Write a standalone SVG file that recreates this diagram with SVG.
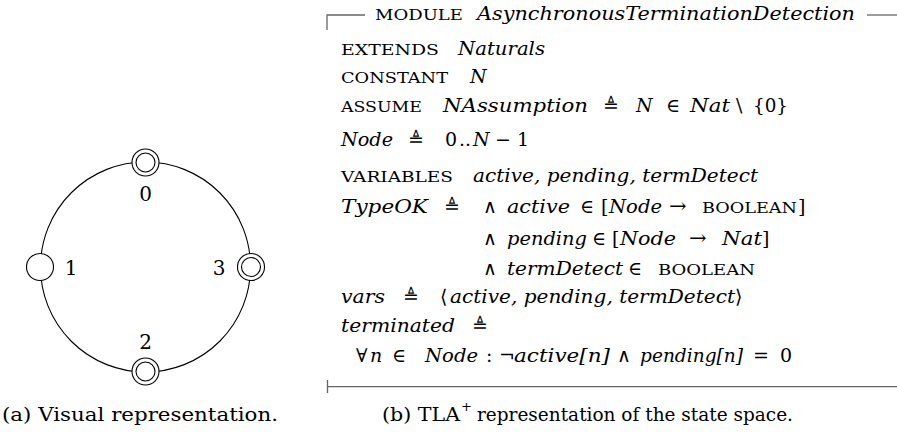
<svg xmlns="http://www.w3.org/2000/svg" width="897" height="435" viewBox="0 0 897 435">
<style>
.t{font-family:"DejaVu Serif","Liberation Serif",serif;font-size:19px;fill:#000}
.it{font-style:italic}
.sc{font-size:14.5px}
.sym{font-family:"DejaVu Serif","Liberation Serif",serif;font-size:19px;fill:#000}
.arr{font-family:"DejaVu Serif","Liberation Serif",serif;font-size:21px;fill:#000}
.eq{font-family:"DejaVu Serif","Liberation Serif",serif;font-size:19px;fill:#000;text-anchor:middle}
.ring{fill:none;stroke:#000;stroke-width:1.1}
.node{fill:#fff;stroke:#000;stroke-width:1.1}
.inner{fill:none;stroke:#000;stroke-width:1.1}
.rule{fill:none;stroke:#666;stroke-width:1.3}
.lbl{text-anchor:middle;font-size:20px}
</style>
<rect width="897" height="435" fill="#fff"/>

<g id="connectors">
<path class="ring" d="M145.5 162 A105 105 0 0 0 40.5 267"/>
<path class="ring" d="M40.5 267 A105 105 0 0 0 145.5 372"/>
<path class="ring" d="M145.5 372 A105 105 0 0 0 250.5 267"/>
<path class="ring" d="M250.5 267 A105 105 0 0 0 145.5 162"/>
</g>

<g id="node-0">
<circle class="node" cx="145.5" cy="162.5" r="13.5"/>
<circle class="inner" cx="145.5" cy="162.5" r="9.5"/>
<text class="t lbl" x="145.5" y="201">0</text>
</g>
<g id="node-1">
<circle class="node" cx="40" cy="267" r="13.5"/>
<text class="t lbl" x="71" y="275">1</text>
</g>
<g id="node-2">
<circle class="node" cx="145.5" cy="371.5" r="13.5"/>
<circle class="inner" cx="145.5" cy="371.5" r="9.5"/>
<text class="t lbl" x="145.5" y="349">2</text>
</g>
<g id="node-3">
<circle class="node" cx="251" cy="267" r="13.5"/>
<circle class="inner" cx="251" cy="267" r="9.5"/>
<text class="t lbl" x="219" y="275">3</text>
</g>

<text class="t" x="2" y="421" textLength="276" lengthAdjust="spacingAndGlyphs">(a) Visual representation.</text>

<g id="module">
<path class="rule" d="M327 30 V15 H365"/>
<path class="rule" d="M867 15 H897"/>
<path class="rule" d="M327.5 380 V393 M327.5 386.7 H897"/>

<text class="t sc" x="375" y="20" textLength="88" lengthAdjust="spacingAndGlyphs">MODULE</text>
<text class="t it" x="477" y="20" textLength="378" lengthAdjust="spacingAndGlyphs">AsynchronousTerminationDetection</text>

<text class="t sc" x="341" y="55" textLength="98" lengthAdjust="spacingAndGlyphs">EXTENDS</text>
<text class="t it" x="458" y="55" textLength="87" lengthAdjust="spacingAndGlyphs">Naturals</text>

<text class="t sc" x="341" y="83" textLength="107" lengthAdjust="spacingAndGlyphs">CONSTANT</text>
<text class="t it" x="470" y="83">N</text>

<text class="t sc" x="341" y="112" textLength="81" lengthAdjust="spacingAndGlyphs">ASSUME</text>
<text class="t it" x="443" y="112" textLength="145" lengthAdjust="spacingAndGlyphs">NAssumption</text>
<text class="eq" x="611" y="112">≜</text>
<text class="t it" x="636" y="112">N</text>
<text class="sym" x="666" y="112">∈</text>
<text class="t it" x="690" y="112" textLength="40" lengthAdjust="spacingAndGlyphs">Nat</text>
<text class="t" x="736" y="112">\</text>
<text class="t" x="753" y="112" textLength="35" lengthAdjust="spacingAndGlyphs">{0}</text>

<text class="t it" x="341" y="146" textLength="52" lengthAdjust="spacingAndGlyphs">Node</text>
<text class="eq" x="416" y="146">≜</text>
<text class="t" x="445" y="146">0</text>
<text class="t" x="459" y="146">..</text>
<text class="t it" x="473" y="146">N</text>
<text class="t" x="495" y="146">−</text>
<text class="t" x="517" y="146">1</text>

<text class="t sc" x="341" y="182" textLength="112" lengthAdjust="spacingAndGlyphs">VARIABLES</text>
<text class="t it" x="473" y="182" textLength="285" lengthAdjust="spacingAndGlyphs">active, pending, termDetect</text>

<text class="t it" x="341" y="213" textLength="87" lengthAdjust="spacingAndGlyphs">TypeOK</text>
<text class="eq" x="452" y="213">≜</text>
<text class="sym" x="483" y="213">∧</text>
<text class="t it" x="507" y="213" textLength="63" lengthAdjust="spacingAndGlyphs">active</text>
<text class="sym" x="580" y="213">∈</text>
<text class="t" x="601" y="213">[</text>
<text class="t it" x="609" y="213" textLength="53" lengthAdjust="spacingAndGlyphs">Node</text>
<text class="arr" x="669" y="213">→</text>
<text class="t sc" x="702" y="213" textLength="95" lengthAdjust="spacingAndGlyphs">BOOLEAN</text>
<text class="t" x="798" y="213">]</text>

<text class="sym" x="483" y="245">∧</text>
<text class="t it" x="507" y="245" textLength="80" lengthAdjust="spacingAndGlyphs">pending</text>
<text class="sym" x="592" y="245">∈</text>
<text class="t" x="612" y="245">[</text>
<text class="t it" x="620" y="245" textLength="56" lengthAdjust="spacingAndGlyphs">Node</text>
<text class="arr" x="689" y="245">→</text>
<text class="t it" x="722" y="245" textLength="40" lengthAdjust="spacingAndGlyphs">Nat</text>
<text class="t" x="762" y="245">]</text>

<text class="sym" x="483" y="275">∧</text>
<text class="t it" x="507" y="275" textLength="116" lengthAdjust="spacingAndGlyphs">termDetect</text>
<text class="sym" x="628" y="275">∈</text>
<text class="t sc" x="658" y="275" textLength="97" lengthAdjust="spacingAndGlyphs">BOOLEAN</text>

<text class="t it" x="341" y="303" textLength="44" lengthAdjust="spacingAndGlyphs">vars</text>
<text class="eq" x="411" y="303">≜</text>
<text class="sym" x="440" y="303">⟨</text>
<text class="t it" x="450" y="303" textLength="285" lengthAdjust="spacingAndGlyphs">active, pending, termDetect</text>
<text class="sym" x="735" y="303">⟩</text>

<text class="t it" x="341" y="332" textLength="114" lengthAdjust="spacingAndGlyphs">terminated</text>
<text class="eq" x="480" y="332">≜</text>

<text class="sym" x="356" y="362">∀</text>
<text class="t it" x="370" y="362">n</text>
<text class="sym" x="392" y="362">∈</text>
<text class="t it" x="425" y="362" textLength="53" lengthAdjust="spacingAndGlyphs">Node</text>
<text class="t" x="486" y="362">:</text>
<text class="sym" x="499" y="362">¬</text>
<text class="t it" x="514" y="362" textLength="96" lengthAdjust="spacingAndGlyphs">active[n]</text>
<text class="sym" x="617" y="362">∧</text>
<text class="t it" x="640" y="362" textLength="103" lengthAdjust="spacingAndGlyphs">pending[n]</text>
<text class="t" x="753" y="362">=</text>
<text class="t" x="780" y="362">0</text>
</g>

<text class="t" x="382" y="421" textLength="78" lengthAdjust="spacingAndGlyphs">(b) TLA</text>
<text class="t" x="461" y="411" style="font-size:13px">+</text>
<text class="t" x="477" y="421" textLength="316" lengthAdjust="spacingAndGlyphs">representation of the state space.</text>
</svg>
